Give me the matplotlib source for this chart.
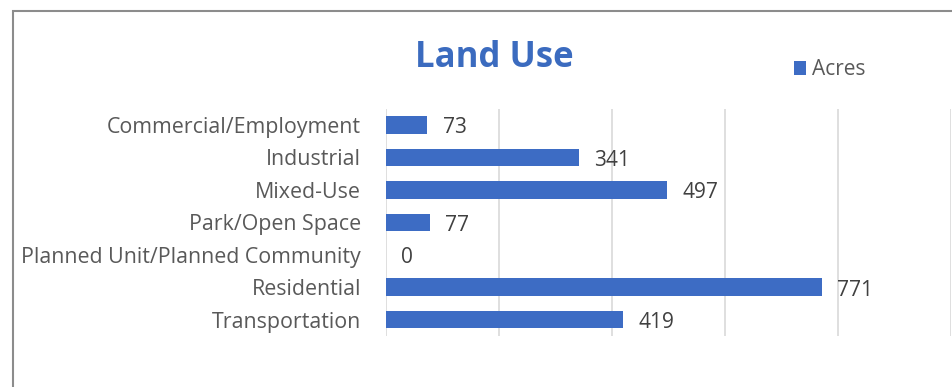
import matplotlib
matplotlib.use("Agg")
import matplotlib.pyplot as plt
from matplotlib.patches import Rectangle

categories = [
    "Commercial/Employment",
    "Industrial",
    "Mixed-Use",
    "Park/Open Space",
    "Planned Unit/Planned Community",
    "Residential",
    "Transportation",
]
acres = [73, 341, 497, 77, 0, 771, 419]
x_ticks = [0, 200, 400, 600, 800, 1000]

BAR_COLOR = "#3D6CC4"
TITLE_COLOR = "#3B6BBF"
LABEL_COLOR = "#595959"
VALUE_COLOR = "#404040"
GRID_COLOR = "#D9D9D9"

plt.rcParams["font.family"] = ["Open Sans", "DejaVu Sans"]

fig = plt.figure(figsize=(9.52, 3.87), dpi=100)
ax = fig.add_axes([0.4055, 0.132, 0.5935, 0.587])

ypos = list(range(len(categories)))
ax.barh(ypos, acres, height=0.54, color=BAR_COLOR, zorder=3)
ax.set_yticks(ypos)
ax.set_yticklabels(categories, fontsize=15.4, color=LABEL_COLOR)
ax.set_ylim(len(categories) - 0.5, -0.5)
ax.set_xlim(0, 1000)
ax.set_xticks(x_ticks)
ax.tick_params(axis="x", bottom=False, labelbottom=False)
ax.tick_params(axis="y", left=False, pad=14.5)
ax.grid(axis="x", color=GRID_COLOR, linewidth=1.2, zorder=0)
for side in ("top", "right", "bottom", "left"):
    ax.spines[side].set_visible(False)

for y, v in zip(ypos, acres):
    ax.annotate(f"{v}", xy=(v, y), xytext=(11, -2), textcoords="offset points",
                ha="left", va="center", fontsize=15, color=VALUE_COLOR)

fig.text(0.519, 0.827, "Land Use", ha="center", va="baseline", fontsize=25,
         fontweight="bold", color=TITLE_COLOR)

ax.legend(["Acres"], loc="center left", bbox_to_anchor=(0.814, 0.82),
          bbox_transform=fig.transFigure, frameon=False, fontsize=15,
          labelcolor=LABEL_COLOR, handlelength=0.6, handleheight=0.7,
          handletextpad=0.3)

# outer chart frame
fig.patches.append(Rectangle((0.0135, -0.1), 1.2, 0.1 + 0.9716, fill=False,
                             edgecolor="#8C8C8C", linewidth=1.5,
                             transform=fig.transFigure, figure=fig))

fig.savefig("out.png", dpi=100)
